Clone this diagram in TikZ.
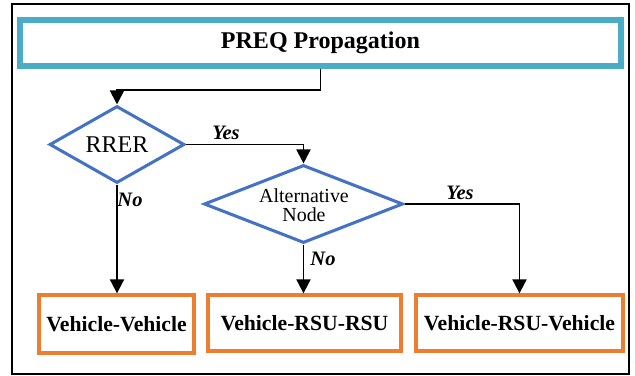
\documentclass[tikz,border=0pt]{standalone}
\usepackage{fontspec}
\setmainfont{Liberation Serif}
\usetikzlibrary{arrows.meta,shapes.geometric}
\definecolor{tealc}{HTML}{4BACC6}
\definecolor{bluec}{HTML}{4472C4}
\definecolor{orangec}{HTML}{ED7D31}
\begin{document}
\begin{tikzpicture}[x=0.03cm,y=-0.03cm,
 conn/.style={line width=1.6pt, -{Triangle[width=12pt,length=12pt]}},
 decision/.style={diamond, draw=bluec, line width=2.6pt, inner sep=0pt},
 outcome/.style={draw=orangec, line width=2.8pt, inner sep=0pt, font=\fontsize{18.5}{22}\selectfont\bfseries},
 lbl/.style={font=\fontsize{17.5}{20}\selectfont\bfseries\itshape, inner sep=0pt}]
\useasboundingbox (0,0) rectangle (635,376);
\draw[line width=1.3pt] (12,4) rectangle (629,374);
\node[draw=tealc, line width=4.5pt, minimum width=18.03cm, minimum height=1.38cm, inner sep=0pt,
  font=\fontsize{20.5}{24}\selectfont\bfseries] (title) at (320.5,43) {PREQ Propagation};
\node[decision, minimum width=4.05cm, minimum height=2.31cm] (rrer) at (117,144.5) {};
\node[font=\fontsize{20.5}{24}\selectfont, inner sep=0pt] (rrertext) at (rrer) {RRER};
\node[decision, minimum width=5.97cm, minimum height=2.34cm] (alt) at (303.5,204) {};
\node[font=\fontsize{17}{16}\selectfont, align=center, inner sep=0pt] (alttext) at (304,205) {Alternative\\Node};
\node[outcome, minimum width=4.65cm, minimum height=1.74cm] (b1) at (116.5,324) {Vehicle-Vehicle};
\node[outcome, minimum width=5.79cm, minimum height=1.68cm] (b2) at (304.5,323) {Vehicle-RSU-RSU};
\node[outcome, minimum width=6.21cm, minimum height=1.68cm] (b3) at (519.5,323) {Vehicle-RSU-Vehicle};
\draw[conn] (title.south) |- (rrer.north |- 0,90) -- (rrer.north);
\draw[conn] (rrer.east) -| (alt.north);
\draw[conn] (rrer.south) -- (rrer.south |- b1.north);
\draw[conn] (alt.south) -- (alt.south |- b2.north);
\draw[conn] (alt.east) -| (b3.north);
\node[lbl] (yes1) at (226,133) {Yes};
\node[lbl] (no1) at (130,200) {No};
\node[lbl] (yes2) at (460,193) {Yes};
\node[lbl] (no2) at (323,259) {No};
\end{tikzpicture}
\end{document}
